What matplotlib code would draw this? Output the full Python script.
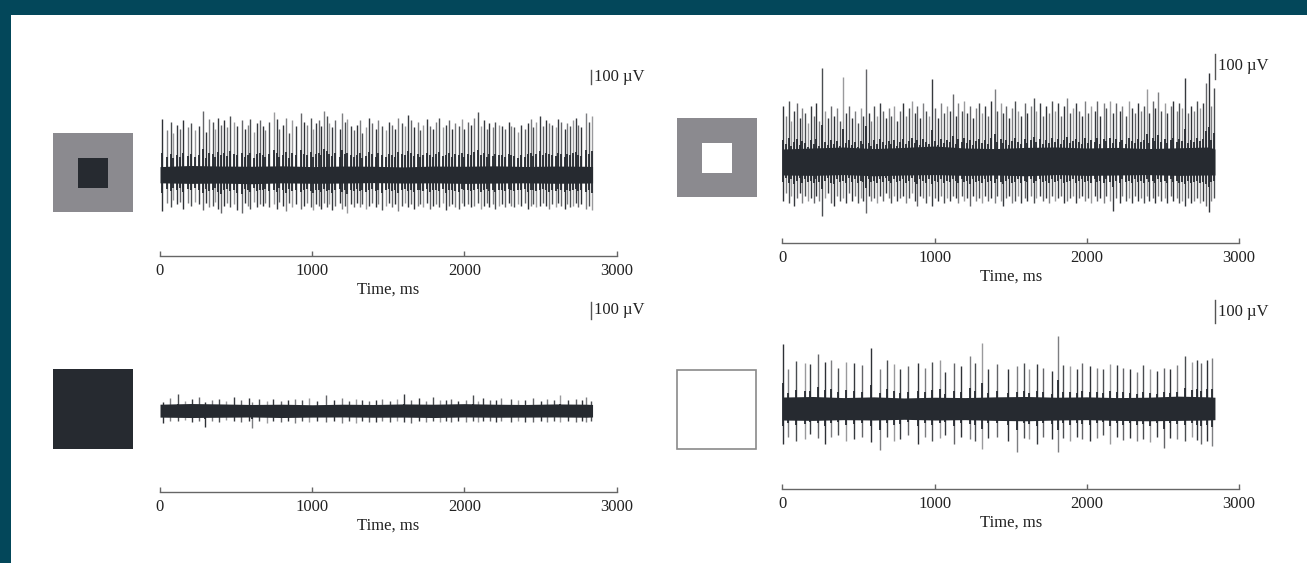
import matplotlib
matplotlib.use("Agg")
import matplotlib.pyplot as plt
from matplotlib.patches import Rectangle

W, H, DPI = 1307, 563, 100
SERIF = ["Liberation Serif", "DejaVu Serif"]
INK = "#262a30"
TEAL = "#03475a"
GREY = "#8b8a8f"
SPIKE_GREYS = ["#2e3136", "#7d7e81", "#4a4d51", "#9a9a9d", "#36393e", "#646569"]

plt.rcParams["font.family"] = SERIF

# ---- data (ms, uV) ----
env_t = [0, 200, 400, 600, 800, 1000, 1200, 1400, 1600, 1800, 2000, 2200, 2400, 2600, 2800, 2842]

# panel 1: dark square on grey surround
band1_hi = [75, 85, 80, 78, 82, 75, 80, 78, 72, 80, 78, 82, 76, 80, 78, 75]
band1_lo = [70, 75, 72, 78, 70, 74, 72, 68, 72, 70, 75, 72, 70, 74, 72, 70]
spk1_t = [15, 44, 72, 88, 110, 132, 154, 182, 204, 231,
          253, 281, 301, 323, 345, 362, 384, 402, 422, 439,
          459, 483, 505, 538, 556, 578, 593, 615, 637, 659,
          675, 692, 714, 747, 769, 784, 806, 828, 846, 868,
          894, 927, 945, 967, 989, 1004, 1026, 1044, 1061, 1077,
          1094, 1110, 1131, 1153, 1180, 1197, 1215, 1230, 1252, 1274,
          1296, 1312, 1329, 1351, 1373, 1395, 1417, 1435, 1461, 1483,
          1505, 1527, 1545, 1566, 1588, 1610, 1632, 1648, 1670, 1692,
          1707, 1725, 1751, 1773, 1795, 1813, 1835, 1857, 1878, 1896,
          1918, 1940, 1962, 1984, 2000, 2021, 2043, 2065, 2087, 2109,
          2131, 2146, 2164, 2186, 2204, 2225, 2247, 2269, 2291, 2307,
          2329, 2351, 2373, 2395, 2417, 2439, 2454, 2472, 2494, 2516,
          2533, 2555, 2577, 2599, 2614, 2636, 2658, 2674, 2691, 2713,
          2731, 2746, 2768, 2797, 2819, 2841]
spk1_up = [400, 320, 380, 300, 360, 330, 390, 340, 370, 320,
           350, 460, 310, 400, 380, 330, 410, 360, 390, 340,
           420, 380, 350, 390, 330, 360, 400, 310, 370, 390,
           350, 320, 380, 450, 400, 330, 360, 410, 300, 390,
           350, 440, 380, 360, 410, 330, 370, 390, 350, 460,
           420, 370, 340, 390, 330, 440, 380, 400, 350, 320,
           360, 390, 300, 340, 410, 370, 330, 390, 350, 320,
           380, 360, 330, 410, 370, 350, 430, 390, 340, 380,
           320, 360, 400, 350, 330, 380, 410, 340, 360, 390,
           330, 370, 350, 400, 330, 380, 360, 410, 450, 350,
           390, 330, 370, 340, 380, 360, 350, 330, 380, 350,
           340, 310, 360, 330, 370, 400, 340, 380, 420, 350,
           390, 370, 360, 340, 400, 380, 330, 370, 350, 390,
           410, 360, 340, 440, 380, 420]
spk1_dn = [260, 200, 230, 180, 210, 190, 240, 200, 220, 190,
           210, 250, 200, 230, 220, 190, 240, 270, 220, 200,
           230, 210, 250, 270, 200, 220, 240, 190, 230, 210,
           220, 200, 230, 210, 240, 190, 220, 260, 200, 230,
           210, 240, 220, 200, 230, 250, 210, 220, 240, 200,
           230, 210, 250, 220, 200, 240, 220, 270, 210, 230,
           200, 230, 210, 240, 220, 200, 230, 210, 250, 220,
           200, 230, 210, 260, 220, 200, 230, 210, 240, 220,
           210, 230, 200, 240, 220, 210, 230, 200, 250, 220,
           210, 230, 240, 200, 220, 210, 230, 220, 200, 240,
           220, 200, 230, 210, 240, 220, 210, 230, 200, 220,
           230, 210, 220, 200, 240, 220, 210, 230, 220, 200,
           220, 240, 210, 230, 200, 220, 240, 210, 230, 220,
           200, 230, 210, 240, 220, 250]

# panel 2: white square on grey surround
band2_hi = [70, 75, 80, 72, 78, 85, 75, 72, 78, 80, 75, 78, 72, 76, 80, 70]
band2_lo = [60, 62, 58, 64, 60, 58, 62, 60, 64, 58, 62, 60, 58, 62, 60, 60]
spk2_t = [4, 22, 41, 57, 76, 95, 113, 130, 151, 168,
          186, 206, 224, 242, 263, 282, 301, 320, 339, 361,
          380, 399, 417, 438, 456, 474, 495, 514, 531, 546,
          566, 584, 602, 623, 641, 659, 681, 698, 715, 736,
          754, 772, 793, 811, 829, 851, 868, 886, 907, 925,
          943, 964, 984, 1001, 1022, 1040, 1059, 1081, 1099, 1122,
          1140, 1157, 1177, 1195, 1213, 1234, 1252, 1270, 1291, 1310,
          1329, 1351, 1369, 1396, 1413, 1434, 1452, 1470, 1491, 1510,
          1529, 1551, 1569, 1591, 1609, 1631, 1650, 1669, 1691, 1710,
          1729, 1751, 1770, 1789, 1811, 1829, 1851, 1870, 1889, 1911,
          1929, 1951, 1970, 1989, 2011, 2029, 2051, 2070, 2089, 2111,
          2129, 2152, 2175, 2194, 2216, 2234, 2256, 2274, 2296, 2314,
          2336, 2354, 2376, 2394, 2411, 2433, 2451, 2471, 2489, 2511,
          2529, 2551, 2569, 2591, 2609, 2628, 2647, 2665, 2686, 2704,
          2726, 2744, 2763, 2782, 2800, 2818, 2838]
spk2_up = [230, 190, 250, 170, 210, 240, 180, 220, 200, 160,
           230, 190, 240, 170, 380, 210, 180, 230, 190, 220,
           170, 345, 200, 230, 180, 210, 160, 220, 190, 375,
           200, 170, 230, 190, 240, 210, 180, 220, 190, 230,
           170, 210, 240, 190, 220, 250, 200, 230, 180, 240,
           210, 190, 335, 220, 180, 240, 200, 230, 210, 275,
           190, 240, 210, 250, 200, 230, 180, 220, 240, 200,
           230, 190, 250, 295, 210, 240, 200, 230, 180, 220,
           250, 210, 190, 240, 200, 230, 260, 210, 240, 190,
           230, 200, 250, 210, 240, 190, 230, 260, 200, 220,
           240, 210, 190, 250, 200, 230, 210, 250, 190, 240,
           220, 250, 200, 240, 210, 230, 190, 250, 220, 200,
           240, 210, 230, 295, 200, 250, 220, 285, 210, 240,
           200, 230, 250, 210, 240, 220, 340, 200, 230, 210,
           250, 220, 240, 320, 360, 230, 300]
spk2_dn = [150, 120, 160, 130, 170, 140, 120, 160, 130, 150,
           140, 160, 130, 150, 210, 140, 120, 160, 170, 130,
           150, 140, 160, 120, 150, 130, 160, 140, 150, 200,
           130, 150, 140, 160, 130, 150, 120, 140, 160, 130,
           150, 140, 130, 160, 140, 120, 150, 170, 130, 140,
           160, 130, 170, 140, 150, 130, 160, 140, 150, 130,
           140, 160, 130, 150, 140, 170, 130, 150, 140, 160,
           130, 150, 140, 160, 130, 150, 170, 140, 130, 160,
           150, 130, 160, 140, 150, 130, 160, 140, 130, 150,
           140, 160, 130, 150, 140, 130, 160, 150, 140, 130,
           160, 140, 130, 150, 140, 160, 130, 150, 140, 160,
           130, 150, 190, 140, 160, 130, 150, 140, 160, 130,
           150, 140, 160, 130, 150, 140, 160, 130, 150, 140,
           160, 130, 150, 140, 160, 150, 170, 140, 160, 150,
           140, 160, 150, 170, 195, 150, 140]

# panel 3: uniform dark field
band3_hi = [50, 55, 52, 48, 50, 46, 50, 48, 52, 50, 54, 50, 48, 52, 50, 48]
band3_lo = [45, 48, 46, 44, 48, 45, 44, 46, 45, 48, 44, 46, 45, 44, 46, 44]
spk3_t = [20, 66, 121, 165, 210, 253, 297, 340, 390, 435,
          483, 530, 582, 604, 650, 700, 745, 795, 840, 890,
          935, 978, 1030, 1088, 1140, 1197, 1240, 1285, 1330, 1375,
          1420, 1461, 1510, 1560, 1604, 1650, 1703, 1750, 1791, 1840,
          1880, 1911, 1960, 2010, 2054, 2090, 2120, 2170, 2210, 2241,
          2307, 2350, 2400, 2450, 2500, 2545, 2590, 2625, 2680, 2735,
          2770, 2801, 2835]
spk3_up = [55, 75, 98, 60, 70, 80, 55, 65, 72, 60,
           80, 62, 78, 50, 68, 60, 72, 58, 66, 70,
           62, 75, 60, 95, 66, 78, 60, 70, 64, 58,
           66, 72, 60, 68, 100, 62, 74, 60, 80, 66,
           62, 72, 60, 66, 96, 60, 74, 62, 66, 75,
           70, 62, 66, 74, 60, 68, 64, 96, 62, 70,
           66, 80, 60]
spk3_dn = [70, 58, 60, 55, 62, 60, 92, 58, 66, 55,
           60, 64, 58, 98, 60, 72, 58, 64, 60, 70,
           58, 66, 60, 62, 58, 70, 60, 72, 58, 62,
           66, 60, 64, 58, 62, 70, 60, 64, 58, 62,
           60, 66, 58, 62, 60, 64, 60, 58, 62, 60,
           66, 60, 62, 64, 60, 66, 58, 62, 60, 64,
           60, 66, 60]

# panel 4: uniform white field
band4_hi = [65, 68, 62, 66, 60, 64, 62, 66, 68, 64, 66, 62, 64, 70, 66, 64]
band4_lo = [60, 62, 58, 60, 56, 60, 58, 62, 64, 60, 58, 62, 64, 62, 60, 58]
spk4_t = [4, 37, 92, 151, 184, 234, 278, 318, 366, 416,
          471, 526, 585, 640, 684, 734, 772, 826, 892, 936,
          984, 1035, 1068, 1127, 1173, 1232, 1265, 1309, 1353, 1407,
          1484, 1539, 1587, 1620, 1671, 1714, 1769, 1809, 1842, 1890,
          1934, 1971, 2021, 2065, 2109, 2153, 2197, 2241, 2285, 2328,
          2372, 2416, 2460, 2504, 2548, 2592, 2647, 2690, 2723, 2752,
          2789, 2822]
spk4_up = [283, 175, 210, 200, 195, 240, 205, 215, 180, 205,
           200, 190, 265, 175, 215, 195, 175, 185, 200, 180,
           205, 215, 160, 200, 185, 230, 200, 288, 175, 195,
           175, 185, 200, 175, 195, 180, 165, 317, 190, 185,
           175, 200, 185, 180, 175, 195, 190, 180, 175, 160,
           190, 175, 165, 180, 175, 190, 230, 205, 215, 200,
           215, 222]
spk4_dn = [150, 120, 140, 130, 110, 125, 150, 120, 115, 140,
           130, 120, 145, 180, 120, 140, 130, 115, 150, 120,
           140, 125, 115, 150, 120, 130, 140, 175, 125, 120,
           140, 185, 125, 130, 150, 120, 130, 185, 125, 140,
           120, 130, 140, 125, 115, 150, 120, 135, 125, 140,
           130, 145, 120, 170, 125, 130, 140, 120, 135, 150,
           140, 160]

tick_vals = [0, 1000, 2000, 3000]
xlabel = "Time, ms"
bar_label = "100 \u00b5V"
bar_uv = 100

# ---- layout in pixels ----
# x0: pixel of 0 ms, base: baseline px, axis: time-axis px, upx: uV per px,
# bar: (x px, top px, length px), sq: stimulus square box
panels = [
    dict(x0=160, base=175, axis=256, upx=100 / 14, bar=(591, 70, 14),
         band=(band1_hi, band1_lo), spk=(spk1_t, spk1_up, spk1_dn),
         sq=(53, 133, 133, 212), sq_face=GREY, inner=(77.5, 158, 107.5, 188), inner_face=INK),
    dict(x0=782.4, base=163, axis=243, upx=100 / 25, bar=(1215, 54, 25),
         band=(band2_hi, band2_lo), spk=(spk2_t, spk2_up, spk2_dn),
         sq=(677, 118, 757, 197), sq_face=GREY, inner=(701.5, 143, 732, 173), inner_face="white"),
    dict(x0=160, base=411, axis=492, upx=100 / 17, bar=(591, 302, 17),
         band=(band3_hi, band3_lo), spk=(spk3_t, spk3_up, spk3_dn),
         sq=(53, 369, 133, 449), sq_face=INK, inner=None, inner_face=None),
    dict(x0=782.4, base=409, axis=489, upx=100 / 23, bar=(1215, 300, 23),
         band=(band4_hi, band4_lo), spk=(spk4_t, spk4_up, spk4_dn),
         sq=(677, 370, 756, 449), sq_face="white", inner=None, inner_face=None),
]
PX_3000 = 456.6
PPMS = PX_3000 / 3000


def px_axes(fig, x0, y0, x1, y1):
    return fig.add_axes([x0 / W, 1 - y1 / H, (x1 - x0) / W, (y1 - y0) / H])


fig = plt.figure(figsize=(W / DPI, H / DPI), dpi=DPI)
fig.patch.set_facecolor("white")
fig.patches.append(Rectangle((0, 1 - 15 / H), 1, 15 / H, transform=fig.transFigure,
                             facecolor=TEAL, edgecolor="none", zorder=0))
fig.patches.append(Rectangle((0, 0), 11 / W, 1, transform=fig.transFigure,
                             facecolor=TEAL, edgecolor="none", zorder=0))

for p in panels:
    top = p["base"] - 120
    ax = px_axes(fig, p["x0"], top, p["x0"] + PX_3000, p["axis"])
    ax.set_xlim(0, 3000)
    ax.set_ylim(-(p["axis"] - p["base"]) * p["upx"], (p["base"] - top) * p["upx"])
    ax.patch.set_alpha(0)

    hi, lo = p["band"]
    t, up, dn = p["spk"]
    cols = [SPIKE_GREYS[i % len(SPIKE_GREYS)] for i in range(len(t))]
    ax.vlines(t, [-v for v in dn], up, colors=cols, lw=1.0, zorder=2)
    ax.fill_between(env_t, [-v * 0.8 for v in lo], [v * 0.8 for v in hi],
                    color=INK, lw=0, zorder=3)
    # short dark hairs at the band edge
    ax.vlines(t, [-v * 0.5 for v in dn], [v * 0.4 for v in up], colors=INK, lw=1.3, zorder=3)

    # scale bar
    bar_x, bar_top, bar_len = p["bar"]
    bx = (bar_x - p["x0"]) / PPMS
    by = (p["base"] - bar_top - bar_len) * p["upx"]
    ax.plot([bx, bx], [by, by + bar_uv], color="#555555", lw=1.0, clip_on=False)
    ax.text(bx + 3 / PPMS, by + bar_uv / 2, bar_label, fontsize=12, ha="left",
            va="center", color="#222222", clip_on=False)

    for s in ("left", "right", "top"):
        ax.spines[s].set_visible(False)
    ax.spines["bottom"].set_color("#666666")
    ax.spines["bottom"].set_linewidth(1.0)
    ax.set_yticks([])
    ax.set_xticks(tick_vals)
    ax.set_xticklabels([str(v) for v in tick_vals])
    ax.tick_params(axis="x", direction="in", length=3.6, width=1.0, color="#666666",
                   pad=5, labelsize=12, labelcolor="#222222")
    ax.set_xlabel(xlabel, fontsize=12, color="#222222", labelpad=2)

    # stimulus square
    sx0, sy0, sx1, sy1 = p["sq"]
    sa = px_axes(fig, sx0, sy0, sx1, sy1)
    sa.set_axis_off()
    sa.add_patch(Rectangle((0, 0), 1, 1, facecolor=p["sq_face"],
                           edgecolor="#8a8a8a" if p["sq_face"] == "white" else "none",
                           lw=1.2, transform=sa.transAxes, clip_on=False))
    if p["inner"]:
        ix0, iy0, ix1, iy1 = p["inner"]
        w, h = sx1 - sx0, sy1 - sy0
        sa.add_patch(Rectangle(((ix0 - sx0) / w, (sy1 - iy1) / h), (ix1 - ix0) / w, (iy1 - iy0) / h,
                               facecolor=p["inner_face"], edgecolor="none", transform=sa.transAxes))

fig.savefig("out.png", dpi=DPI)
